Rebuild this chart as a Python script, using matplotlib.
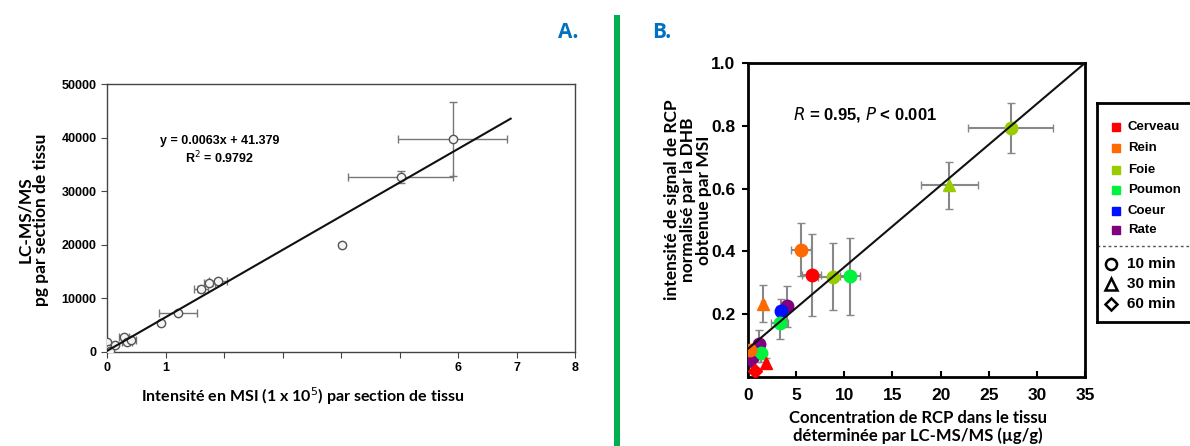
import numpy as np
import matplotlib.pyplot as plt

# Panel A: MSI intensity (x1e5) vs LC-MS/MS (pg per section)
a_x = [0.0, 0.03, 0.05, 0.14, 0.29, 0.34, 0.41, 0.92, 1.21, 1.60, 1.75, 1.90, 4.02, 5.02, 5.91]
a_y = [1860, 500, 200, 1240, 2780, 1860, 2290, 5380, 7300, 11760, 12800, 13180, 19990, 32670, 39790]
a_xerr = [0, 0, 0, 0, 0.08, 0.08, 0.08, 0, 0.32, 0.12, 0.1, 0.15, 0, 0.9, 0.93]
a_yerr = [0, 0, 0, 0, 300, 300, 300, 300, 300, 600, 400, 400, 300, 1100, 6900]
a_fit = (6280, 200)
a_xticklabels = ['0', '1', '', '', '', '', '6', '7', '8']

# Panel B: concentration (ug/g) vs normalised signal
organs = ['Cerveau', 'Rein', 'Foie', 'Poumon', 'Coeur', 'Rate']
organ_colors = ['#FF0000', '#FF6A00', '#99CC00', '#00F33C', '#0010FF', '#800080']
times = ['10 min', '30 min', '60 min']
time_markers = ['o', '^', 'D']

b_x = [27.3, 20.9, 5.5, 6.6, 8.8, 10.6, 1.6, 4.0, 3.4, 3.3, 1.1, 0.9, 1.4, 0.35, 1.9, 0.7, 0.2]
b_y = [0.794, 0.611, 0.406, 0.324, 0.319, 0.321, 0.234, 0.225, 0.209, 0.173, 0.104, 0.077, 0.077, 0.053, 0.045, 0.019, 0.085]
b_xerr = [4.4, 2.95, 1.0, 1.0, 1.5, 1.0, 0.2, 0.6, 0.4, 0.9, 0.3, 0.3, 0.3, 0.1, 0.2, 0.2, 0.1]
b_yerr = [0.08, 0.075, 0.083, 0.13, 0.107, 0.123, 0.058, 0.065, 0.04, 0.052, 0.045, 0.03, 0.03, 0.02, 0.015, 0.01, 0.01]
b_organ = [2, 2, 1, 0, 2, 3, 1, 5, 4, 3, 5, 4, 3, 5, 0, 0, 1]
b_time = [0, 1, 0, 0, 0, 0, 1, 0, 0, 0, 0, 0, 0, 2, 1, 2, 0]

fig = plt.figure(figsize=(11.9, 4.46), dpi=100)
tickfont = {'family': 'Liberation Sans', 'weight': 'bold'}
labfont = {'family': 'Lato', 'weight': 'bold'}

# ---- panel A
axa = fig.add_axes([107/1190, (446-352)/446, 468/1190, 268/446])
axa.errorbar(a_x, a_y, xerr=a_xerr, yerr=a_yerr, fmt='o', mfc='#f4f4f4', mec='#555555',
             ms=6, mew=1, ecolor='#777777', elinewidth=1, capsize=3, zorder=3)
xx = np.array([0, 6.9])
axa.plot(xx, a_fit[0]*xx + a_fit[1], color='#111111', lw=1.5, zorder=4)
axa.set_xlim(0, 8)
axa.set_ylim(0, 50000)
axa.set_xticks(range(9))
axa.set_xticklabels(a_xticklabels)
axa.set_yticks(range(0, 50001, 10000))
for s in axa.spines.values():
    s.set_color('#444444')
    s.set_linewidth(1)
axa.tick_params(direction='out', length=4, color='#444444')
for lab in axa.get_xticklabels() + axa.get_yticklabels():
    lab.set_fontproperties(tickfont)
    lab.set_fontsize(9)
axa.text(1.93, 39400, 'y = 0.0063x + 41.379', ha='center', va='center', fontsize=9, **tickfont)
axa.text(1.93, 36200, 'R$^{2}$ = 0.9792', ha='center', va='center', fontsize=9, **tickfont)
fig.text(33/1190, 1-220/446, 'LC-MS/MS\npg par section de tissu', rotation=90, ha='center',
         va='center', fontsize=12.5, linespacing=1.0, **labfont)
fig.text(303/1190, 1-396/446, 'Intensité en MSI (1 x 10$^5$) par section de tissu', ha='center',
         va='center', fontsize=11.5, **labfont)

# ---- separator and panel letters
fig.add_artist(plt.Rectangle((614/1190, 0), 6/1190, 431/446, transform=fig.transFigure,
                             color='#00B050', lw=0))
fig.text(568/1190, 1-33/446, 'A.', color='#0070C0', fontsize=15, ha='center', va='center',
         family='Open Sans', weight='bold')
fig.text(662/1190, 1-33/446, 'B.', color='#0070C0', fontsize=15, ha='center', va='center',
         family='Open Sans', weight='bold')

# ---- panel B
axb = fig.add_axes([748/1190, (446-377)/446, 337/1190, 314/446])
axb.errorbar(b_x, b_y, xerr=b_xerr, yerr=b_yerr, fmt='none', ecolor='#888888',
             elinewidth=1.5, capsize=3, zorder=2)
for x, y, o, t in zip(b_x, b_y, b_organ, b_time):
    axb.plot(x, y, marker=time_markers[t], color=organ_colors[o], ms=9 if t != 2 else 7,
             mec=organ_colors[o], zorder=3, ls='none')
xx = np.array([0, 35])
axb.plot(xx, 0.09 + 0.026*xx, color='#111111', lw=1.5, zorder=4)
axb.set_xlim(0, 35)
axb.set_ylim(0, 1.0)
axb.set_xticks(range(0, 36, 5))
axb.set_yticks([0.2, 0.4, 0.6, 0.8, 1.0])
axb.set_yticklabels(['0.2', '0.4', '0.6', '0.8', '1.0'])
for s in axb.spines.values():
    s.set_linewidth(2)
axb.tick_params(axis='x', direction='in', length=4, width=1.5, pad=8)
axb.tick_params(axis='y', direction='out', length=4, width=1.5, pad=5)
for lab in axb.get_xticklabels() + axb.get_yticklabels():
    lab.set_fontproperties(tickfont)
    lab.set_fontsize(12.5)
axb.text(793/1190, 1-115/446, '$\\mathbf{\\it{R}}$ = 0.95, $\\mathbf{\\it{P}}$ < 0.001',
         transform=fig.transFigure, ha='left', va='center', fontsize=12, **tickfont)
fig.text(688/1190, 1-200/446, 'intensité de signal de RCP\nnormalisé par la DHB\nobtenue par MSI',
         rotation=90, ha='center', va='center', fontsize=12.5, linespacing=1.0, **labfont)
fig.text(918/1190, 1-427/446, 'Concentration de RCP dans le tissu\ndéterminée par LC-MS/MS (µg/g)',
         ha='center', va='center', fontsize=12, linespacing=1.1, **labfont)

# ---- legend box (runs off the right edge)
axl = fig.add_axes([1097/1190, (446-322)/446, 119/1190, 219/446])
axl.set_xlim(0, 119)
axl.set_ylim(322, 103)
axl.set_xticks([])
axl.set_yticks([])
for s in axl.spines.values():
    s.set_linewidth(2)
leg_y = [127, 148, 170, 190, 211, 230]
for name, c, y in zip(organs, organ_colors, leg_y):
    axl.plot(19, y, marker='s', color=c, ms=6, ls='none', clip_on=False)
    axl.text(31, y, name, ha='left', va='center', fontsize=9.5, **tickfont)
axl.axhline(246, color='#555555', lw=1, ls=(0, (2, 2)))
for name, m, y in zip(times, time_markers, [264, 284, 304]):
    axl.plot(14, y, marker=m, mfc='white', mec='black', mew=1.8, ms=8 if m != 'D' else 6,
             ls='none')
    axl.text(30, y, name, ha='left', va='center', fontsize=11, **tickfont)

fig.savefig('out.png', dpi=100)
